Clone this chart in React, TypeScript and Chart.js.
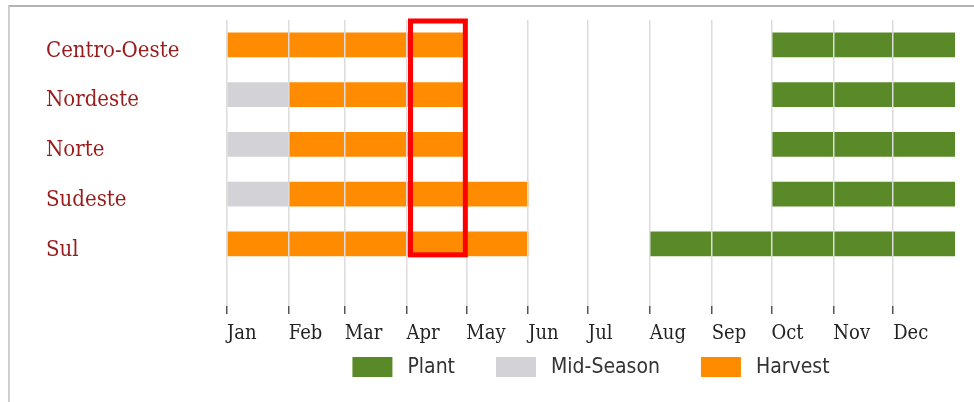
import React, { useEffect, useRef } from "react";
import { Chart, registerables } from "chart.js";

Chart.register(...registerables);

// ---- data ----
const regions = ["Centro-Oeste", "Nordeste", "Norte", "Sudeste", "Sul"];
const monthLabels = ["Jan", "Feb", "Mar", "Apr", "May", "Jun", "Jul", "Aug", "Sep", "Oct", "Nov", "Dec"];
const monthStartDays = [0, 31, 59, 90, 120, 151, 181, 212, 243, 273, 304, 334, 365];

// phases as [first month, last month] (1-based, inclusive); null = none
const plantMonths: ([number, number] | null)[] = [[10, 12], [10, 12], [10, 12], [10, 12], [8, 12]];
const midSeasonMonths: ([number, number] | null)[] = [null, [1, 1], [1, 1], [1, 1], null];
const harvestMonths: ([number, number] | null)[] = [[1, 4], [2, 4], [2, 4], [2, 5], [1, 5]];
const highlightMonth = "Apr";

const phaseNames = ["Plant", "Mid-Season", "Harvest"];
const phaseColors = ["#5a8a28", "#d3d2d6", "#ff8c00"];

const toData = (arr: ([number, number] | null)[]) =>
  arr
    .map((m, i) => (m ? { y: i, x: [monthStartDays[m[0] - 1], monthStartDays[m[1]]] } : null))
    .filter((d) => d !== null);

const serif = "'DejaVu Serif Condensed', 'DejaVu Serif', serif";
const sans = "'DejaVu Sans Condensed', 'DejaVu Sans', sans-serif";

const highlightPlugin = {
  id: "highlight",
  afterDraw(chart: any) {
    const { ctx, scales, chartArea } = chart;
    const mi = monthLabels.indexOf(highlightMonth);
    const x0 = scales.x.getPixelForValue(monthStartDays[mi]) + 4;
    const x1 = scales.x.getPixelForValue(monthStartDays[mi + 1]) - 1;
    const y0 = chartArea.top + 1;
    const y1 = scales.y.getPixelForValue(regions.length - 1) + 11;
    ctx.save();
    ctx.strokeStyle = "#ff0000";
    ctx.lineWidth = 5;
    ctx.strokeRect(x0, y0, x1 - x0, y1 - y0);
    ctx.restore();
  },
};

const legendPlugin = {
  id: "bottomLegend",
  afterDraw(chart: any) {
    const { ctx, chartArea } = chart;
    const boxW = 40, boxH = 20, textGap = 15, itemGap = 41;
    ctx.save();
    ctx.font = `21px ${sans}`;
    const widths = phaseNames.map((n) => boxW + textGap + ctx.measureText(n).width);
    const total = widths.reduce((a, b) => a + b, 0) + itemGap * (phaseNames.length - 1);
    let x = (chartArea.left + chartArea.right) / 2 - total / 2;
    const cy = 367;
    ctx.textBaseline = "middle";
    ctx.textAlign = "left";
    phaseNames.forEach((n, i) => {
      ctx.fillStyle = phaseColors[i];
      ctx.fillRect(x, cy - boxH / 2, boxW, boxH);
      ctx.fillStyle = "#333";
      ctx.fillText(n, x + boxW + textGap, cy + 1);
      x += widths[i] + itemGap;
    });
    ctx.restore();
  },
};

export default function App() {
  const ref = useRef<HTMLCanvasElement>(null);
  useEffect(() => {
    if (!ref.current) return;
    const datasets = [plantMonths, midSeasonMonths, harvestMonths].map((arr, i) => ({
      label: phaseNames[i],
      data: toData(arr) as any,
      backgroundColor: phaseColors[i],
      borderWidth: 0,
      barThickness: 24,
      grouped: false,
    }));
    const chart = new Chart(ref.current, {
      type: "bar",
      data: { datasets },
      plugins: [highlightPlugin, legendPlugin],
      options: {
        indexAxis: "y",
        responsive: false,
        animation: false,
        layout: { padding: { left: 46, top: 20, right: 19, bottom: 36 } },
        scales: {
          x: {
            type: "linear",
            min: 0,
            max: 365,
            offset: false,
            afterBuildTicks: (s: any) => {
              s.ticks = monthStartDays.slice(0, 12).map((v) => ({ value: v }));
            },
            afterFit: (s: any) => {
              s.height = 60;
            },
            border: { display: false },
            grid: { color: "#dcdcdc", lineWidth: 1.5, tickColor: "#555", tickLength: 8, tickWidth: 1.5, z: 1 },
            ticks: {
              align: "start",
              autoSkip: false,
              maxRotation: 0,
              padding: 8,
              color: "#222",
              font: { family: serif, size: 20 },
              callback: (_v: any, i: number) => monthLabels[i],
            },
          },
          y: {
            type: "linear",
            reverse: true,
            min: -0.5,
            max: 5.25,
            offset: false,
            grace: 0,
            afterBuildTicks: (s: any) => {
              s.ticks = regions.map((_r, i) => ({ value: i }));
            },
            afterFit: (s: any) => {
              s.width = 181;
            },
            border: { display: false },
            grid: { display: false, offset: false },
            ticks: {
              crossAlign: "far",
              labelOffset: 6,
              color: "#991c1c",
              font: { family: serif, size: 22 },
              callback: (v: any) => regions[v as number] ?? "",
            },
          },
        },
        plugins: {
          legend: { display: false },
          tooltip: { enabled: false },
        },
      },
    });
    return () => chart.destroy();
  }, []);
  return (
    <div style={{ position: "fixed", left: 0, top: 0, width: 974, height: 402, background: "#fff" }}>
      <div
        style={{
          position: "absolute",
          left: 8,
          top: 5,
          width: 966,
          height: 397,
          borderTop: "2px solid #b4b4b4",
          borderLeft: "2px solid #cfcfcf",
        }}
      />
      <canvas ref={ref} width={974} height={402} style={{ position: "absolute", left: 0, top: 0 }} />
    </div>
  );
}
